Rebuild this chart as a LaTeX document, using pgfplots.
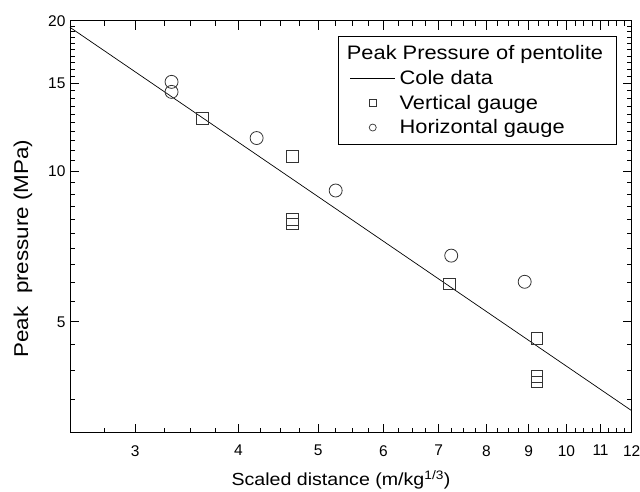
\documentclass[border=0pt]{standalone}
\usepackage{fontspec}
\setmainfont{Liberation Sans}
\newfontfamily\wide{Liberation Sans}[FakeStretch=1.12]
\usepackage{pgfplots}
\pgfplotsset{compat=1.18}
\usetikzlibrary{calc}
\begin{document}
\begin{tikzpicture}
\begin{axis}[
  name=ax,
  scale only axis,
  width=561.7pt, height=412pt,
  xmode=log, ymode=log,
  xmin=2.5, xmax=12, ymin=3, ymax=20,
  xtick={3,4,5,6,7,8,9,10,11,12},
  xticklabels={3,4,5,6,7,8,9,10,11,12},
  minor xtick={2.75,3.25,3.5,3.75,4.25,4.5,4.75,5.25,5.5,5.75,6.25,6.5,6.75,7.25,7.5,7.75,8.25,8.5,8.75,9.25,9.5,9.75,10.25,10.5,10.75,11.25,11.5,11.75},
  ytick={5,10,15,20},
  yticklabels={5,10,15,20},
  minor ytick={3.5,4,4.5,5.5,6,6.5,7,7.5,8,8.5,9,9.5,10.5,11,11.5,12,12.5,13,13.5,14,14.5,15.5,16,16.5,17,17.5,18,18.5,19,19.5},
  tick align=inside,
  major tick length=9pt, minor tick length=5pt,
  every tick/.style={black, line width=0.8pt},
  axis line style={line width=1pt},
  tick label style={font=\fontsize{15.5}{18}\selectfont},
  xticklabel style={yshift=-9pt},
  yticklabel style={xshift=-1pt},
  xlabel={Scaled distance (m/kg\textsuperscript{1/3})},
  ylabel={Peak\ \ pressure (MPa)},
  xlabel style={font=\wide\fontsize{17.5}{21}\selectfont, at={(axis description cs:0.4825,0)}, anchor=base, yshift=-53pt},
  ylabel style={font=\wide\fontsize{20}{23}\selectfont, at={([xshift=-47pt]axis description cs:0,0.447)}, anchor=center},
  legend style={anchor=north west, draw=black, line width=0.8pt,
    at={(axis description cs:0.478,0.963)}, font=\wide\fontsize{19.5}{23}\selectfont,
    legend cell align=left, row sep=5pt, column sep=2pt, inner xsep=11pt, inner ysep=7.5pt},
  legend image code/.code={\draw[mark repeat=2,mark phase=2,#1] plot coordinates {(0pt,0pt) (22.5pt,0pt) (45pt,0pt)};},
  clip=false,
]
\addplot[black, line width=0.7pt, forget plot] coordinates {(2.5,19.4) (12,3.32)};
\addplot[only marks, mark=square, mark size=5.8pt, draw=black!80, line width=0.8pt, forget plot] coordinates {
  (3.62,12.74) (4.65,10.72) (4.65,8.0) (4.65,7.84) (7.21,5.95) (9.21,4.63) (9.21,3.89) (9.21,3.79)};
\addplot[only marks, mark=o, mark size=6.5pt, draw=black!80, line width=0.8pt, forget plot] coordinates {
  (3.32,15.09) (3.32,14.41) (4.21,11.65) (5.25,9.15) (7.25,6.78) (8.9,6.01)};
\addlegendimage{empty legend}
\addlegendentry{\hspace*{-52.7pt}Peak Pressure of pentolite}
\addlegendimage{black, line width=0.7pt}
\addlegendentry{Cole data}
\addlegendimage{only marks, mark=square, mark size=3.3pt, draw=black!80, line width=0.7pt}
\addlegendentry{Vertical gauge}
\addlegendimage{only marks, mark=o, mark size=3.5pt, draw=black!80, line width=0.7pt}
\addlegendentry{Horizontal gauge}
\end{axis}
\pgfresetboundingbox
\path[use as bounding box] ($(ax.south west)+(-70pt,-59.3pt)$) rectangle ($(ax.north east)+(8.3pt,20.7pt)$);
\end{tikzpicture}
\end{document}
